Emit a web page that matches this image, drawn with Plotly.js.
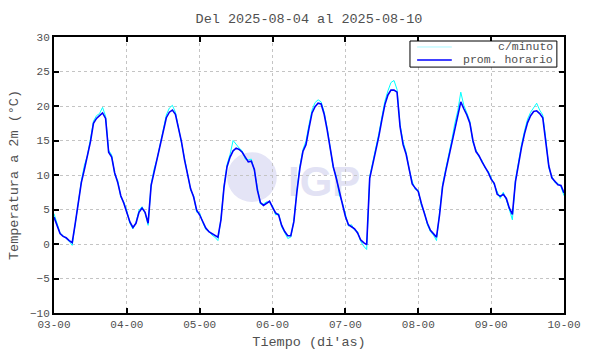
<!DOCTYPE html>
<html>
<head>
<meta charset="utf-8">
<script src="https://cdn.plot.ly/plotly-3.0.1.min.js"></script>
<style>html,body{margin:0;padding:0;background:#fff;}#chart{width:590px;height:354px;}</style>
</head>
<body>
<div id="chart"></div>
<script>
// Hours since 2025-08-03 00:00 (hourly grid)
const hours = Array.from({length: 169}, (_, i) => i);

// Hourly average temperature (°C)
const promHorario = [
  3.9, 2.8, 1.5, 1.1, 0.9, 0.5, 0.2, 3.0, 5.7, 8.9, 10.8, 12.6, 14.8, 17.5, 18.2, 18.6, 19.0, 18.2, 13.3, 12.6, 10.3, 8.9, 7.0, 5.9,
  4.6, 3.2, 2.4, 3.0, 4.6, 5.2, 4.6, 3.0, 8.5, 10.5, 12.1, 14.1, 16.5, 18.3, 19.1, 19.4, 18.8, 16.8, 14.8, 12.2, 10.0, 8.0, 6.8, 4.9,
  4.2, 3.3, 2.3, 1.8, 1.5, 1.2, 1.0, 3.5, 8.2, 11.2, 12.6, 13.5, 13.9, 13.7, 13.3, 12.6, 11.9, 12.0, 10.8, 7.8, 6.0, 5.6, 5.9, 6.2,
  5.3, 4.5, 4.2, 2.7, 1.8, 1.2, 1.2, 3.2, 7.5, 11.0, 13.4, 14.4, 16.8, 19.0, 19.9, 20.4, 20.3, 18.8, 16.5, 13.8, 11.2, 9.5, 7.4, 5.8,
  4.0, 2.8, 2.5, 2.2, 1.6, 0.6, 0.2, -0.1, 9.5, 11.5, 13.6, 15.6, 18.0, 20.2, 21.6, 22.3, 22.3, 22.0, 17.0, 14.4, 13.0, 11.0, 8.7, 8.1,
  7.6, 5.9, 4.4, 3.0, 2.0, 1.5, 1.0, 4.2, 8.3, 10.5, 12.5, 14.6, 17.0, 18.8, 20.6, 19.6, 18.7, 17.5, 15.0, 13.4, 12.8, 11.9, 11.2, 10.4,
  9.4, 8.8, 7.2, 6.9, 7.2, 6.6, 5.2, 4.3, 9.0, 11.6, 14.0, 16.0, 17.6, 18.6, 19.2, 19.3, 18.9, 18.3, 15.0, 11.3, 9.6, 9.1, 8.6, 8.5,
  7.4
];

const cMinuto = [
  4.4, 2.9, 1.6, 1.2, 0.8, 0.4, -0.2, 3.1, 5.9, 9.1, 11.4, 12.8, 15.2, 17.8, 18.6, 18.9, 19.8, 18.5, 13.6, 12.9, 10.1, 9.2, 6.8, 6.1,
  4.8, 3.0, 2.2, 3.1, 4.9, 5.4, 4.5, 2.7, 8.7, 10.9, 12.4, 14.5, 16.8, 18.7, 19.7, 20.1, 19.1, 17.0, 14.9, 12.5, 10.2, 7.8, 7.0, 4.6,
  4.5, 3.1, 2.1, 1.9, 1.3, 1.0, 0.5, 3.7, 8.4, 11.5, 13.0, 15.0, 14.4, 13.9, 13.5, 12.3, 12.2, 12.3, 10.6, 8.1, 5.8, 5.8, 6.1, 6.0,
  5.5, 4.2, 4.4, 2.5, 1.6, 0.8, 1.0, 3.4, 7.8, 11.3, 13.7, 14.9, 17.3, 19.4, 20.5, 20.9, 20.6, 19.1, 16.8, 14.1, 11.0, 9.8, 7.1, 6.0,
  4.3, 2.6, 2.8, 2.0, 1.8, 0.4, -0.3, -0.8, 9.8, 11.8, 13.9, 16.0, 18.4, 20.7, 22.2, 23.4, 23.7, 22.4, 17.3, 14.8, 13.3, 10.8, 9.1, 7.9,
  7.8, 5.6, 4.6, 2.8, 1.8, 1.3, 0.5, 4.5, 8.6, 10.8, 12.8, 15.0, 17.4, 19.3, 22.0, 20.1, 19.0, 17.8, 14.7, 13.7, 12.6, 12.1, 11.0, 10.6,
  9.6, 8.6, 7.5, 6.6, 7.5, 6.4, 5.0, 3.5, 9.3, 11.9, 14.4, 16.4, 18.1, 19.1, 19.8, 20.4, 19.4, 18.7, 15.3, 11.0, 9.8, 8.9, 8.8, 8.3,
  7.0
];

const tickHours = [0, 24, 48, 72, 96, 120, 144, 168];
const tickLabels = ['03-00', '04-00', '05-00', '06-00', '07-00', '08-00', '09-00', '10-00'];
const seriesNames = ['c/minuto', 'prom. horario'];
const seriesColors = ['#00ffff', '#0000ff'];

const mono = 'Liberation Mono, DejaVu Sans Mono, monospace';
const txt = '#505050';

const traces = [
  {x: hours, y: cMinuto, type: 'scatter', mode: 'lines', name: seriesNames[0],
   line: {color: seriesColors[0], width: 1}, hoverinfo: 'skip'},
  {x: hours, y: promHorario, type: 'scatter', mode: 'lines', name: seriesNames[1],
   line: {color: seriesColors[1], width: 1.6}}
];

const axisCommon = {
  showline: true, linecolor: '#000', linewidth: 2, mirror: 'ticks',
  ticks: 'inside', ticklen: 5, tickwidth: 2, tickcolor: '#000',
  showgrid: true, gridcolor: '#c4c4c4', griddash: 'dot', gridwidth: 1,
  zeroline: false, tickfont: {family: mono, size: 11, color: txt}
};

// Compact key (gnuplot-style, text right-aligned)
const keyBox = {x0: 0.698, x1: 0.986, y0: 0.891, y1: 0.9855};
const keyRows = [0.9638, 0.9167];
const keyShapes = [
  {type: 'rect', xref: 'paper', yref: 'paper', x0: keyBox.x0, x1: keyBox.x1, y0: keyBox.y0, y1: keyBox.y1,
   fillcolor: '#fff', line: {color: '#000', width: 1}, layer: 'above'}
];
const keyAnnots = [];
seriesNames.forEach((nm, i) => {
  keyShapes.push({type: 'line', xref: 'paper', yref: 'paper', x0: 0.712, x1: 0.780, y0: keyRows[i], y1: keyRows[i],
                  line: {color: i === 0 ? '#a8f8ff' : seriesColors[i], width: i === 0 ? 1 : 1.5}, layer: 'above'});
  keyAnnots.push({xref: 'paper', yref: 'paper', x: 0.983, y: keyRows[i], xanchor: 'right', yanchor: 'middle',
                  text: nm, showarrow: false, font: {family: mono, size: 11.5, color: txt}});
});

const layout = {
  width: 590, height: 354,
  margin: {l: 54, r: 26, t: 37, b: 41},
  paper_bgcolor: '#fff', plot_bgcolor: '#fff',
  font: {family: mono, color: txt},
  title: {text: 'Del 2025-08-04 al 2025-08-10', font: {family: mono, size: 13.5, color: txt},
          x: 0.5, xref: 'paper', y: 1 - 18 / 354, yref: 'container', yanchor: 'middle'},
  xaxis: Object.assign({}, axisCommon, {
    range: [0, 168], tickmode: 'array', tickvals: tickHours, ticktext: tickLabels,
    title: {text: "Tiempo (di'as)", font: {family: mono, size: 13.5, color: txt}, standoff: 6}
  }),
  yaxis: Object.assign({}, axisCommon, {
    range: [-10, 30], dtick: 5, tick0: 0,
    title: {text: 'Temperatura a 2m (°C)', font: {family: mono, size: 13.5, color: txt}, standoff: 8}
  }),
  showlegend: false,
  annotations: keyAnnots,
  shapes: [
    {type: 'circle', xref: 'x', yref: 'y', x0: 57.0, x1: 73.4, y0: 6.1, y1: 13.3,
     fillcolor: '#e4e4f6', line: {width: 0}, layer: 'below'},
    {type: 'rect', xref: 'x', yref: 'y', x0: 77, x1: 101, y0: 7.2, y1: 12.2,
     fillcolor: 'rgba(0,0,0,0)', line: {width: 0}, layer: 'below',
     label: {text: 'IGP', textposition: 'middle center',
             font: {family: 'Liberation Sans, Arial, sans-serif', size: 42, color: '#e2e2f4', weight: 'bold'}}}
  ].concat(keyShapes)
};

Plotly.newPlot('chart', traces, layout, {displayModeBar: false, staticPlot: true});
</script>
</body>
</html>
